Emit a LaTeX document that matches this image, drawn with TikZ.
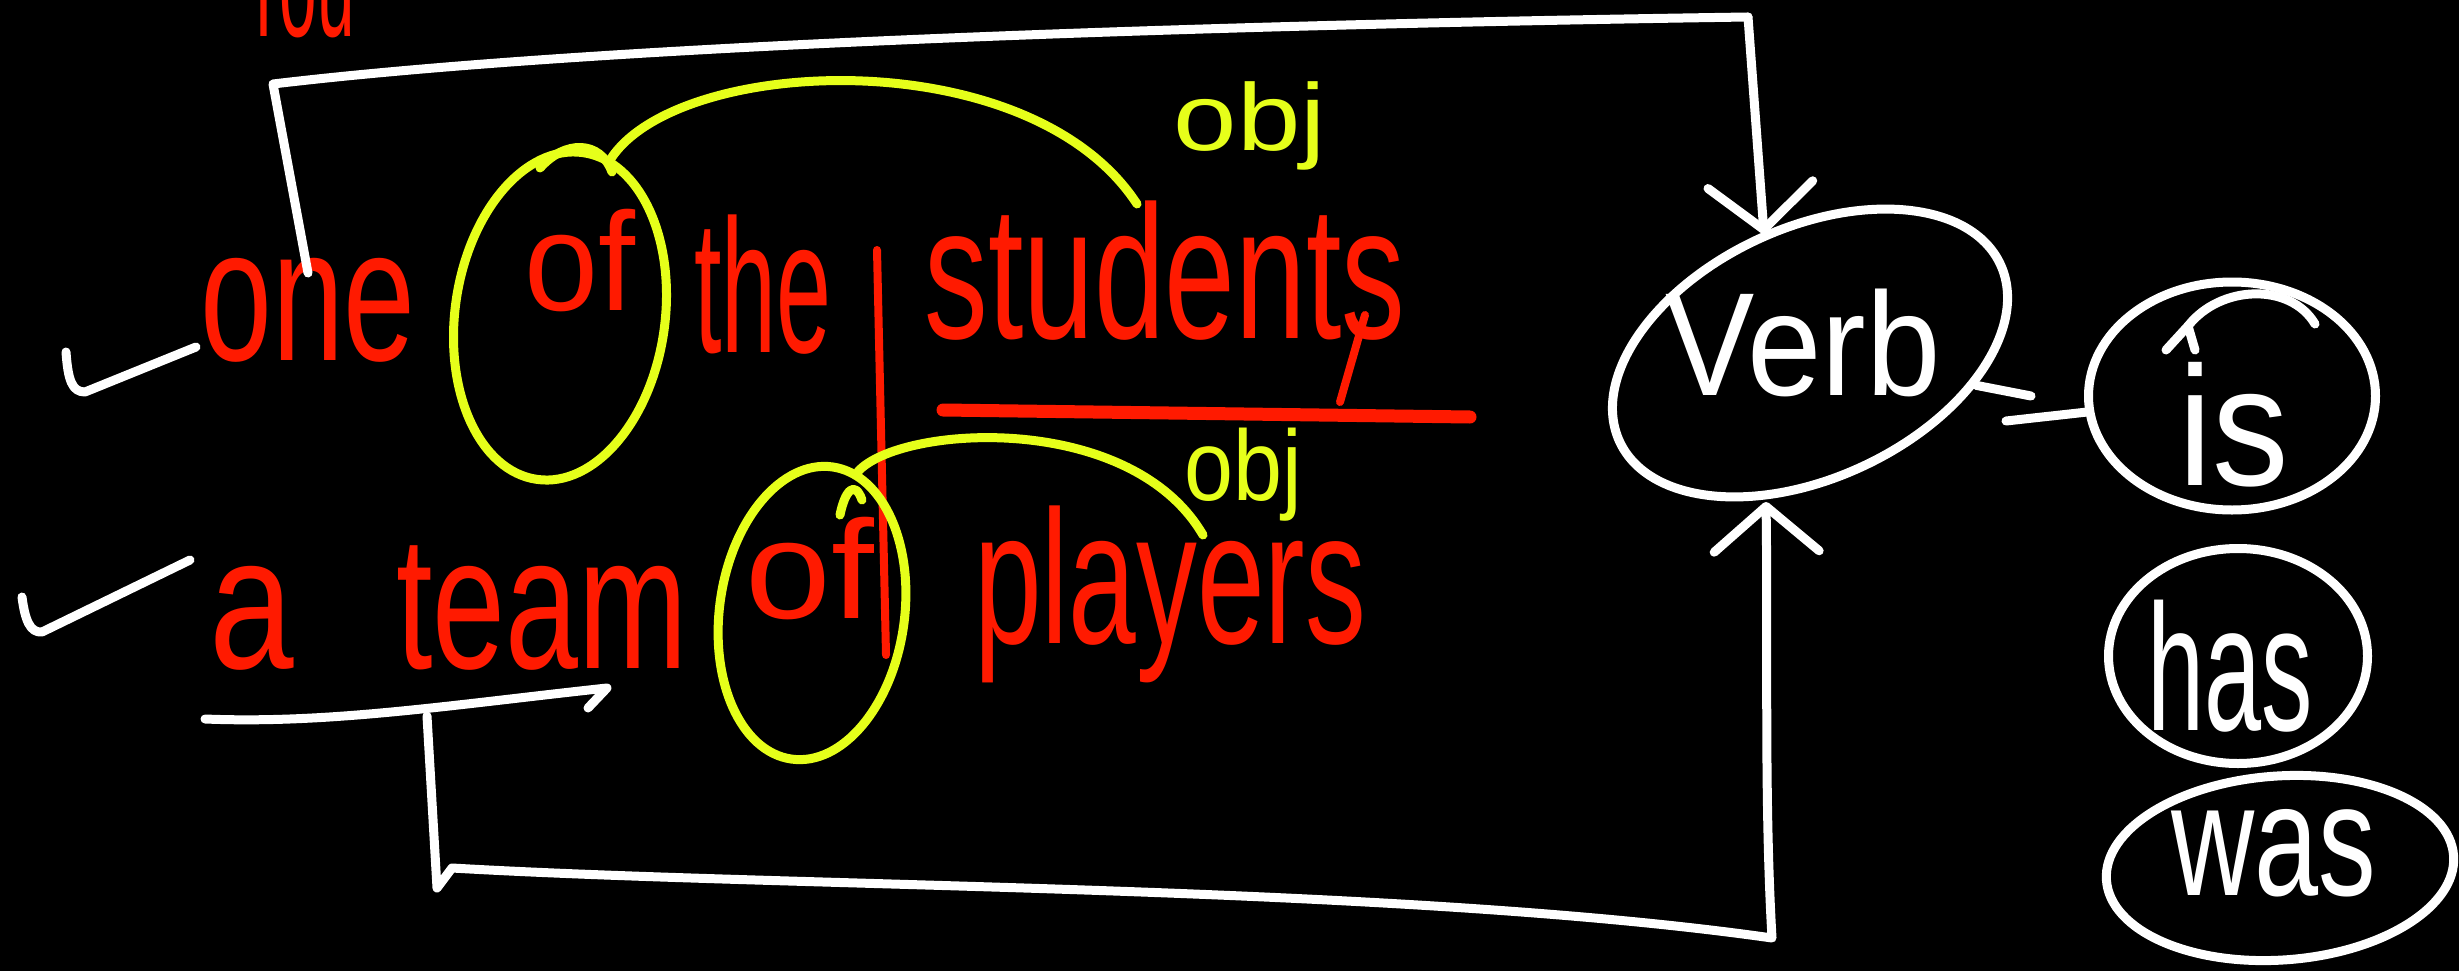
\documentclass[tikz,border=0pt]{standalone}
\usepackage{fontspec}
\setmainfont{Liberation Sans}
\usepackage{graphicx}
\usetikzlibrary{arrows.meta,shapes.geometric,calc}
\definecolor{hwred}{HTML}{FF1A00}
\definecolor{hwyellow}{HTML}{E6FF1A}
\newcommand{\hwsx}[2]{\scalebox{#1}[1]{#2}}
\newcommand{\fsz}[1]{\fontsize{#1}{#1}\selectfont}
\begin{document}
\begin{tikzpicture}[x=1pt,y=-1pt,
  wline/.style={draw=white,line width=9pt,line cap=round,line join=round},
  yline/.style={draw=hwyellow,line width=9pt,line cap=round,line join=round},
  rline/.style={draw=hwred,line width=8pt,line cap=round},
  redtxt/.style={text=hwred,inner sep=0pt,anchor=base},
  ylwtxt/.style={text=hwyellow,inner sep=0pt,anchor=base},
  whtxt/.style={text=white,inner sep=0pt,anchor=base},
  yring/.style={ellipse,draw=hwyellow,line width=9pt,inner sep=0pt},
  wring/.style={ellipse,draw=white,line width=9pt,inner sep=0pt},
  barbtip/.style={-{Straight Barb[round,length=45pt,width=105pt]}}
]
\fill[black] (0,0) rectangle (2459,971);
\useasboundingbox (0,0) rectangle (2459,971);
\begin{scope}
\clip (0,0) rectangle (2459,971);

% ---- top, cut-off text
\node[redtxt,font=\fsz{150}] (you) at (298,37) {\hwsx{0.45}{You}};

% ---- red text row 1
\node[redtxt,font=\fsz{190}] (one) at (308,360) {\hwsx{0.68}{one}};
\node[redtxt,font=\fsz{140}] (of1) at (580,310) {\hwsx{0.95}{of}};
\node[redtxt,font=\fsz{190}] (the) at (763,352) {\hwsx{0.52}{the}};
\node[redtxt,font=\fsz{190}] (students) at (1165,338) {\hwsx{0.67}{students}};
% ---- red text row 2
\node[redtxt,font=\fsz{190}] (a) at (252,668) {\hwsx{0.8}{a}};
\node[redtxt,font=\fsz{190}] (team) at (542,668) {\hwsx{0.69}{team}};
\node[redtxt,font=\fsz{140}] (of2) at (810,618) {\hwsx{1.1}{of}};
\node[redtxt,font=\fsz{190}] (players) at (1170,643) {\hwsx{0.64}{players}};

% ---- red strokes
\draw[rline] (877,250) -- (886,655);
\draw[rline,line width=13pt] (943,410) -- (1470,417);
\draw[rline] (1365,315) -- (1340,402);

% ---- yellow rings, arcs and labels
\node[yring,minimum width=210pt,minimum height=330pt,rotate=-8] (ring1) at (560,316) {};
\node[yring,minimum width=185pt,minimum height=295pt,rotate=-8] (ring2) at (812,613) {};
\node[ylwtxt,font=\fsz{95}] (obj1) at (1250,150) {\hwsx{1.2}{obj}};
\node[ylwtxt,font=\fsz{100}] (obj2) at (1243,500) {\hwsx{0.88}{obj}};
\coordinate (arc1end) at (1137,204);
\coordinate (arc2end) at (1203,535);
\draw[yline] (ring1.80) .. controls (680,55) and (1030,40) .. (arc1end);
\draw[yline] (540,168) .. controls (565,140) and (600,140) .. (612,172);
\draw[yline] (ring2.80) .. controls (900,425) and (1130,410) .. (arc2end);
\draw[yline] (840,515) .. controls (845,490) and (855,480) .. (862,500);

% ---- white verb / auxiliaries
\node[wring,minimum width=420pt,minimum height=250pt,rotate=25] (verb) at (1810,353) {};
\node[whtxt,font=\fsz{147}] (verbtxt) at (1803,395) {\hwsx{0.91}{Verb}};
\node[wring,minimum width=287pt,minimum height=228pt] (is) at (2232,396) {};
\node[whtxt,font=\fsz{170}] (istxt) at (2234,485) {\hwsx{0.9}{is}};
\node[wring,minimum width=259pt,minimum height=215pt] (has) at (2238,656) {};
\node[whtxt,font=\fsz{180}] (hastxt) at (2230,730) {\hwsx{0.57}{has}};
\node[wring,minimum width=348pt,minimum height=184pt,rotate=4] (was) at (2280,868) {};
\node[whtxt,font=\fsz{160}] (wastxt) at (2274,895) {\hwsx{0.72}{was}};

% scribble on "is"
\draw[wline] (2166,350) -- (2188,326) -- (2195,350);
\draw[wline] (2188,326) .. controls (2220,285) and (2290,282) .. (2315,324);

% verb -- is connector (two strokes)
\coordinate (vi1) at (2031,396);
\coordinate (vi2) at (2006,421);
\draw[wline] (verb) -- (vi1);
\draw[wline] (vi2) -- (is);

% ---- check marks
\draw[wline] (66,352) .. controls (68,380) and (72,392) .. (85,392) -- (196,347);
\draw[wline] (22,597) .. controls (25,620) and (30,633) .. (42,632) -- (190,560);

% ---- top bracket
\coordinate (tl0) at (308,273);
\coordinate (tl1) at (273,84);
\coordinate (tr) at (1748,17);
\coordinate (vtop) at (1764,234);
\draw[wline] (tl0) -- (tl1) .. controls (600,45) and (1200,25) .. (tr);
\draw[wline,barbtip] (tr) -- (vtop);

% ---- bottom bracket
\coordinate (ul0) at (205,719);
\coordinate (ul1) at (607,688);
\draw[wline] (ul0) .. controls (330,724) and (450,705) .. (ul1) -- (588,708);
\coordinate (bl0) at (427,716);
\coordinate (bl1) at (437,888);
\coordinate (br) at (1772,938);
\coordinate (vbot) at (1766,502);
\draw[wline,barbtip] (bl0) -- (bl1) -- (452,868) .. controls (800,888) and (1400,885) .. (br) .. controls (1764,800) and (1768,650) .. (vbot);
\end{scope}
\end{tikzpicture}
\end{document}
